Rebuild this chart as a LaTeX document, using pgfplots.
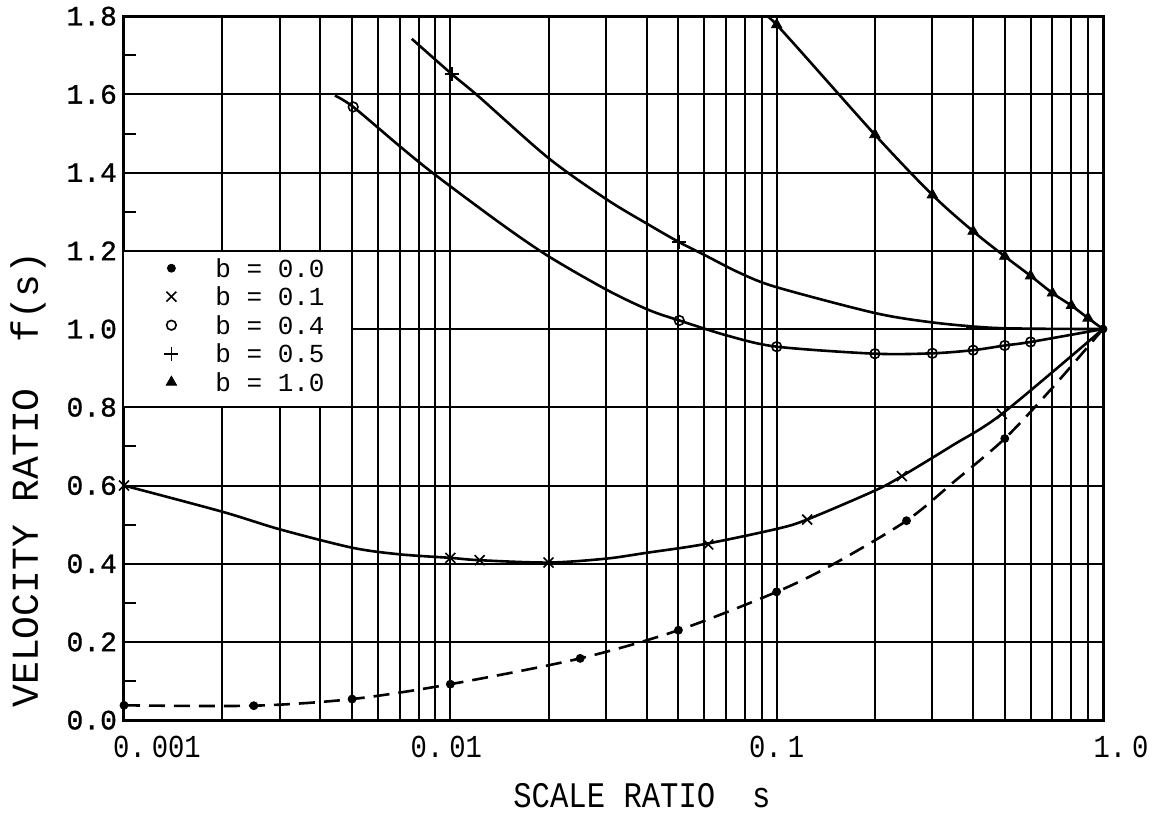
\documentclass[border=0pt]{standalone}
\usepackage{fontspec}
\setmainfont{Liberation Mono}
\newfontfamily\ytfont[FakeBold=1]{Liberation Mono}
\newfontfamily\xtfont[FakeStretch=0.85]{Liberation Mono}
\newfontfamily\xlfont[FakeStretch=0.85]{Liberation Mono}
\usepackage{pgfplots}
\pgfplotsset{compat=1.18}
\newcommand{\sh}[2]{\makebox[0pt]{\hspace*{#1}#2}}
\begin{document}
\begin{tikzpicture}
\begin{axis}[
  at={(0,0)}, anchor=south west,
  scale only axis, width=489.5pt, height=352pt,
  set layers,
  xmode=log, xmin=0.001, xmax=1, ymin=0, ymax=1.8,
  xtick={0.001,0.01,0.1,1},
  xticklabels={\sh{33pt}{0.\kern3pt 001},\sh{-4pt}{0.\kern3pt 01},\sh{0pt}{0.\kern3pt 1},\sh{18pt}{1.\kern3pt 0}},
  minor xtick={0.002,0.003,0.004,0.005,0.006,0.007,0.008,0.009,
               0.02,0.03,0.04,0.05,0.06,0.07,0.08,0.09,
               0.2,0.3,0.4,0.5,0.6,0.7,0.8,0.9},
  ytick={0,0.2,0.4,0.6,0.8,1.0,1.2,1.4,1.6,1.8},
  yticklabels={0.0,0.2,0.4,0.6,0.8,1.0,1.2,1.4,1.6,1.8},
  minor ytick={0.1,0.3,0.5,0.7,0.9,1.1,1.3,1.5,1.7},
  tick pos=left,
  major tick length=0pt, minor tick length=6pt,
  tick style={black, line width=1pt},
  xmajorgrids, xminorgrids, ymajorgrids,
  major grid style={black, line width=1pt},
  minor grid style={black, line width=1pt},
  axis line style={black, line width=1.5pt},
  xticklabel style={font=\xtfont\fontsize{16}{16}\selectfont, anchor=center, yshift=-13.5pt},
  yticklabel style={font=\ytfont\fontsize{14}{14}\selectfont},
  xlabel={SCALE RATIO~~s},
  ylabel={VELOCITY RATIO~~f(s)},
  xlabel style={font=\xlfont\fontsize{18}{18}\selectfont, at={(axis description cs:0.529,-0.1065)}, anchor=center, inner sep=0pt},
  ylabel style={font=\fontsize{19}{19}\selectfont, at={(axis description cs:-0.0981,0.342)}, anchor=center, inner sep=0pt},
  legend image code/.code={\draw[#1, only marks] plot coordinates {(0pt,0pt)}; \path (-3pt,-3pt) (3pt,3pt);},
  legend style={at={(axis description cs:0,0.6667)}, anchor=north west, draw=none, fill=none,
    inner xsep=20pt, inner ysep=4pt, row sep=5.25pt,
    font=\fontsize{13}{13}\selectfont,
    nodes={inner sep=0pt, text height=9pt, text depth=0pt},
    /tikz/every odd column/.append style={column sep=18.5pt}},
  legend cell align=left,
]
\fill[white, on layer=axis grid] (axis cs:0.001,0.803) rectangle (axis cs:0.00496,1.197);

% ---- lines ----
% b = 0.0 (dashed)
\addplot[forget plot, smooth, black, line width=1.3pt, dash pattern=on 8pt off 4.5pt] coordinates {
 (0.001,0.038) (0.0025,0.037) (0.005,0.054) (0.01,0.092) (0.025,0.158) (0.05,0.23)
 (0.1,0.328) (0.15,0.40) (0.25,0.51) (0.35,0.61) (0.5,0.72) (0.7,0.85) (1,1.0)};
% b = 0.1
\addplot[forget plot, smooth, black, line width=1.3pt] coordinates {
 (0.001,0.6) (0.002,0.533) (0.003,0.488) (0.005,0.441) (0.007,0.424) (0.01,0.415)
 (0.0123,0.409) (0.02,0.403) (0.03,0.413) (0.04,0.428) (0.06,0.45) (0.1,0.489)
 (0.124,0.513) (0.2,0.587) (0.242,0.624) (0.345,0.702) (0.49,0.783) (1,1.0)};
% b = 0.4
\addplot[forget plot, smooth, black, line width=1.3pt] coordinates {
 (0.00443,1.597) (0.00504,1.568) (0.00701,1.467) (0.0089,1.397) (0.0142,1.271)
 (0.02,1.186) (0.0302,1.10) (0.0405,1.049) (0.0503,1.022) (0.0708,0.983) (0.1,0.955)
 (0.2,0.937) (0.3,0.938) (0.4,0.946) (0.5,0.958) (0.6,0.967) (1,1.0)};
% b = 0.5
\addplot[forget plot, smooth, black, line width=1.3pt] coordinates {
 (0.00762,1.742) (0.0101,1.652) (0.0122,1.595) (0.02,1.437) (0.0302,1.331)
 (0.0405,1.267) (0.0503,1.222) (0.0599,1.19) (0.0773,1.143) (0.1,1.107)
 (0.2,1.041) (0.3,1.017) (0.44,1.004) (0.6,1.001) (1,1.0)};
% b = 1.0
\addplot[forget plot, smooth, black, line width=1.3pt] coordinates {
 (0.0905,1.8) (0.1,1.778) (0.2,1.497) (0.3,1.343) (0.4,1.25) (0.5,1.186)
 (0.6,1.136) (0.7,1.092) (0.8,1.06) (0.9,1.028) (1,1.0)};

% ---- marks ----
\addplot[only marks, black, mark=*, mark size=2pt] coordinates {
 (0.001,0.038) (0.0025,0.037) (0.005,0.054) (0.01,0.092) (0.025,0.158) (0.05,0.23)
 (0.1,0.328) (0.25,0.51) (0.5,0.72) (1,1.0)};
\addlegendentry{b = 0.0}
\addplot[only marks, black, mark=x, mark size=3.5pt, mark options={line width=0.8pt}] coordinates {
 (0.001,0.6) (0.01,0.415) (0.0123,0.409) (0.02,0.403) (0.0617,0.449) (0.124,0.513)
 (0.242,0.624) (0.49,0.783)};
\addlegendentry{b = 0.1}
\addplot[only marks, black, mark=o, mark size=2.4pt, mark options={fill=white, line width=0.8pt}] coordinates {
 (0.00504,1.568) (0.0503,1.022) (0.1,0.955) (0.2,0.937) (0.3,0.938) (0.4,0.946)
 (0.5,0.958) (0.6,0.967)};
\addlegendentry{b = 0.4}
\addplot[only marks, black, mark=+, mark size=3.5pt, mark options={line width=0.8pt}] coordinates {
 (0.0101,1.652) (0.0503,1.222) (0.3,1.017) (0.4,1.006)};
\addlegendentry{b = 0.5}
\addplot[only marks, black, mark=triangle*, mark size=3pt] coordinates {
 (0.1,1.778) (0.2,1.497) (0.3,1.343) (0.4,1.25) (0.5,1.186)
 (0.6,1.136) (0.7,1.092) (0.8,1.06) (0.9,1.028)};
\addlegendentry{b = 1.0}
\end{axis}
\path (-62pt,-46pt) rectangle (514pt,358.5pt);
\end{tikzpicture}
\end{document}
